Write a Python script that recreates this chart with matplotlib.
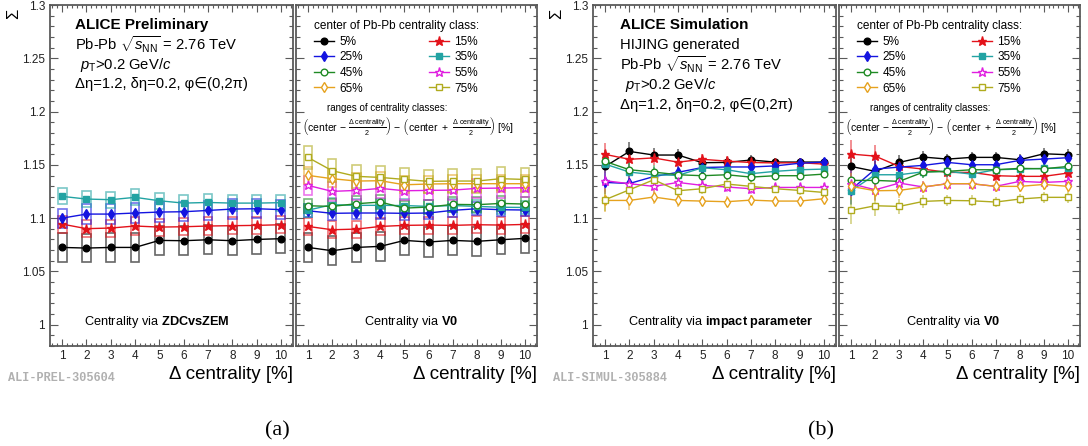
import matplotlib
matplotlib.use("Agg")
import matplotlib.pyplot as plt
from matplotlib.patches import Rectangle
from matplotlib.ticker import MultipleLocator, FuncFormatter

plt.rcParams['font.family'] = ['Liberation Sans', 'DejaVu Sans']
plt.rcParams['mathtext.fontset'] = 'custom'
plt.rcParams['mathtext.rm'] = 'Liberation Sans'
plt.rcParams['mathtext.it'] = 'Liberation Sans:italic'
plt.rcParams['mathtext.bf'] = 'Liberation Sans:bold'
plt.rcParams['mathtext.sf'] = 'Liberation Sans'

W, H = 1088, 446

dcent = [1, 2, 3, 4, 5, 6, 7, 8, 9, 10]

# (a) data, centrality via ZDCvsZEM
zdc_5 = [1.0725, 1.0719, 1.0725, 1.0725, 1.0791, 1.0788, 1.0797, 1.0788, 1.0800, 1.0807]
zdc_15 = [1.0944, 1.0901, 1.0907, 1.0926, 1.0916, 1.0919, 1.0926, 1.0929, 1.0932, 1.0938]
zdc_25 = [1.1000, 1.1038, 1.1038, 1.1048, 1.1057, 1.1060, 1.1072, 1.1085, 1.1088, 1.1080]
zdc_35 = [1.1204, 1.1179, 1.1173, 1.1195, 1.1163, 1.1141, 1.1147, 1.1141, 1.1141, 1.1145]
zdc_sys = [0.0135, 0.008, 0.009, 0.0075]

# (a) data, centrality via V0
v0_5 = [1.0725, 1.0694, 1.0725, 1.0735, 1.0791, 1.0776, 1.0791, 1.0782, 1.0797, 1.0810]
v0_15 = [1.0922, 1.0891, 1.0897, 1.0922, 1.0932, 1.0935, 1.0932, 1.0938, 1.0935, 1.0941]
v0_25 = [1.1069, 1.1045, 1.1048, 1.1048, 1.1045, 1.1048, 1.1073, 1.1088, 1.1079, 1.1076]
v0_35 = [1.1075, 1.1126, 1.1120, 1.1120, 1.1118, 1.1110, 1.1118, 1.1110, 1.1102, 1.1100]
v0_45 = [1.1116, 1.1110, 1.1135, 1.1151, 1.1094, 1.1104, 1.1129, 1.1126, 1.1138, 1.1132]
v0_55 = [1.1307, 1.1251, 1.1260, 1.1279, 1.1257, 1.1260, 1.1263, 1.1279, 1.1282, 1.1285]
v0_65 = [1.1401, 1.1370, 1.1348, 1.1351, 1.1313, 1.1320, 1.1323, 1.1323, 1.1323, 1.1323]
v0_75 = [1.1569, 1.1445, 1.1392, 1.1382, 1.1363, 1.1345, 1.1348, 1.1348, 1.1370, 1.1363]
v0_sys = [0.0137, 0.008, 0.006, 0.006, 0.0068, 0.009, 0.008, 0.011]

# (b) HIJING, centrality via impact parameter
ip_5 = [1.1485, 1.1626, 1.1592, 1.1592, 1.1520, 1.1523, 1.1545, 1.1526, 1.1526, 1.1526]
ip_15 = [1.1598, 1.1552, 1.1565, 1.1525, 1.1552, 1.1535, 1.1522, 1.1518, 1.1520, 1.1507]
ip_25 = [1.1335, 1.1325, 1.1390, 1.1430, 1.1475, 1.1480, 1.1480, 1.1490, 1.1515, 1.1526]
ip_35 = [1.1507, 1.1432, 1.1407, 1.1401, 1.1473, 1.1454, 1.1417, 1.1439, 1.1454, 1.1460]
ip_45 = [1.1532, 1.1454, 1.1432, 1.1407, 1.1398, 1.1407, 1.1385, 1.1398, 1.1398, 1.1413]
ip_55 = [1.1351, 1.1323, 1.1298, 1.1335, 1.1307, 1.1292, 1.1276, 1.1288, 1.1288, 1.1288]
ip_65 = [1.1166, 1.1166, 1.1198, 1.1166, 1.1160, 1.1154, 1.1169, 1.1160, 1.1160, 1.1182]
ip_75 = [1.1173, 1.1266, 1.1360, 1.1257, 1.1276, 1.1320, 1.1298, 1.1276, 1.1260, 1.1241]
ip_err = [0.011, 0.009, 0.007, 0.006, 0.005, 0.005, 0.005, 0.004, 0.004, 0.004]

# (b) HIJING, centrality via V0
sv0_5 = [1.1485, 1.1439, 1.1523, 1.1573, 1.1554, 1.1570, 1.1570, 1.1548, 1.1604, 1.1595]
sv0_15 = [1.1601, 1.1582, 1.1485, 1.1460, 1.1429, 1.1429, 1.1398, 1.1392, 1.1392, 1.1423]
sv0_25 = [1.1266, 1.1460, 1.1479, 1.1495, 1.1523, 1.1501, 1.1501, 1.1542, 1.1554, 1.1567]
sv0_35 = [1.1257, 1.1407, 1.1407, 1.1435, 1.1439, 1.1413, 1.1454, 1.1460, 1.1467, 1.1470]
sv0_45 = [1.1354, 1.1354, 1.1345, 1.1432, 1.1439, 1.1454, 1.1454, 1.1467, 1.1463, 1.1485]
sv0_55 = [1.1323, 1.1266, 1.1329, 1.1292, 1.1323, 1.1323, 1.1298, 1.1345, 1.1335, 1.1345]
sv0_65 = [1.1298, 1.1257, 1.1260, 1.1292, 1.1323, 1.1323, 1.1298, 1.1298, 1.1316, 1.1298]
sv0_75 = [1.1072, 1.1116, 1.1110, 1.1157, 1.1166, 1.1163, 1.1151, 1.1179, 1.1195, 1.1195]
sv0_err = [0.013, 0.010, 0.007, 0.006, 0.005, 0.005, 0.005, 0.005, 0.005, 0.005]

labels = ['5%', '15%', '25%', '35%', '45%', '55%', '65%', '75%']
colors = ['black', '#e3121a', '#1414e0', '#22a3a3', '#1f8a24', '#e01ee0', '#e6a21e', '#b0ab1e']
markers = ['o', '*', 'd', 's', 'o', '*', 'd', 's']
filled = [True, True, True, True, False, False, False, False]
msizes = [4.8, 6.5, 5.2, 4.6, 4.8, 6.5, 5.2, 4.6]

frame_col = '#5a5a5a'


def style_axes(ax, show_ylabels):
    ax.set_xlim(0.5, 10.5)
    ax.set_ylim(0.98, 1.3)
    ax.xaxis.set_major_locator(MultipleLocator(1))
    ax.xaxis.set_minor_locator(MultipleLocator(0.2))
    ax.yaxis.set_major_locator(MultipleLocator(0.05))
    ax.yaxis.set_minor_locator(MultipleLocator(0.01))
    ax.tick_params(which='both', direction='in', top=True, right=True, color=frame_col,
                   labelsize=8.5, labelcolor='#222222', width=0.8)
    ax.tick_params(which='major', axis='y', length=6)
    ax.tick_params(which='minor', axis='y', length=3)
    ax.tick_params(which='major', axis='x', length=5)
    ax.tick_params(which='minor', axis='x', length=2.5)
    ax.tick_params(axis='x', pad=3)
    ax.xaxis.set_major_formatter(FuncFormatter(lambda v, p: '%d' % v if 1 <= v <= 10 else ''))
    if show_ylabels:
        ax.yaxis.set_major_formatter(FuncFormatter(lambda v, p: '%g' % round(v, 3) if v >= 0.999 else ''))
    else:
        ax.tick_params(axis='y', labelleft=False)
    for s in ax.spines.values():
        s.set_color(frame_col)
        s.set_linewidth(1.3)


def draw_series(ax, series, idx, sys=None, err=None):
    handles = []
    for k, (vals, i) in enumerate(zip(series, idx)):
        c = colors[i]
        if sys is not None:
            for x, y in zip(dcent, vals):
                ax.add_patch(Rectangle((x - 0.18, y - sys[k]), 0.36, 2 * sys[k], fill=False,
                                       edgecolor=c, alpha=0.6, lw=1.2, zorder=2))
        e = err if err is not None else [0.0015] * len(vals)
        ax.errorbar(dcent, vals, yerr=e, fmt='none', ecolor=c, alpha=0.6, elinewidth=1.1, zorder=3)
        ln, = ax.plot(dcent, vals, color=c, lw=1.0, marker=markers[i], ms=msizes[i],
                      mfc=c if filled[i] else 'white', mec=c, mew=1.0, zorder=4, label=labels[i])
        handles.append(ln)
    return handles


def add_legend(ax, handles, x0):
    order = [0, 2, 4, 6, 1, 3, 5, 7]
    ax.legend([handles[i] for i in order], [labels[i] for i in order], ncol=2,
              title='center of Pb-Pb centrality class:', loc='upper left',
              bbox_to_anchor=(x0, 0.993), frameon=False, fontsize=8.5, title_fontsize=8.5,
              handlelength=1.7, handletextpad=0.45, columnspacing=5.6, labelspacing=0.3,
              alignment='left', borderpad=0.6)
    ax.text(0.38, 0.697, 'ranges of centrality classes:', transform=ax.transAxes,
            ha='center', va='center', fontsize=7)
    ax.text(0.467, 0.645,
            r'$\left(\mathrm{center}\ \mathrm{-}\ \frac{\Delta\ \mathrm{centrality}}{2}\right)\ \mathrm{-}\ '
            r'\left(\mathrm{center}\ +\ \frac{\Delta\ \mathrm{centrality}}{2}\right)$ [%]',
            transform=ax.transAxes, ha='center', va='center', fontsize=7.5)


fig = plt.figure(figsize=(W / 100, H / 100), dpi=100)


def axes_at(x0, x1, y0=5, y1=346):
    return fig.add_axes([x0 / W, 1 - y1 / H, (x1 - x0) / W, (y1 - y0) / H])


ax1 = axes_at(50, 293)
ax2 = axes_at(296, 537)
ax3 = axes_at(593, 836)
ax4 = axes_at(839, 1080)

for ax, lab in [(ax1, True), (ax2, False), (ax3, True), (ax4, False)]:
    style_axes(ax, lab)

draw_series(ax1, [zdc_5, zdc_15, zdc_25, zdc_35], [0, 1, 2, 3], sys=zdc_sys)
h2 = draw_series(ax2, [v0_5, v0_15, v0_25, v0_35, v0_45, v0_55, v0_65, v0_75], range(8), sys=v0_sys)
draw_series(ax3, [ip_5, ip_15, ip_25, ip_35, ip_45, ip_55, ip_65, ip_75], range(8), err=ip_err)
h4 = draw_series(ax4, [sv0_5, sv0_15, sv0_25, sv0_35, sv0_45, sv0_55, sv0_65, sv0_75], range(8), err=sv0_err)

add_legend(ax2, h2, 0.02)
add_legend(ax4, h4, 0.02)

# header texts
fs = 10.6
tx = 0.103
ax1.text(tx, 0.941, 'ALICE Preliminary', transform=ax1.transAxes, fontsize=11, fontweight='bold', va='center')
ax1.text(tx, 0.883, r'Pb-Pb $\sqrt{s_{\mathrm{NN}}}$ = 2.76 TeV', transform=ax1.transAxes, fontsize=fs, va='center')
ax1.text(tx + 0.02, 0.824, r'$p_{\mathrm{T}}$>0.2 GeV/$c$', transform=ax1.transAxes, fontsize=fs, va='center')
ax1.text(tx, 0.768, r'Δη=1.2, δη=0.2, φ∈(0,2π)', transform=ax1.transAxes, fontsize=fs, va='center')

tx = 0.111
ax3.text(tx, 0.941, 'ALICE Simulation', transform=ax3.transAxes, fontsize=11, fontweight='bold', va='center')
ax3.text(tx, 0.883, 'HIJING generated', transform=ax3.transAxes, fontsize=fs, va='center')
ax3.text(tx, 0.824, r'Pb-Pb $\sqrt{s_{\mathrm{NN}}}$ = 2.76 TeV', transform=ax3.transAxes, fontsize=fs, va='center')
ax3.text(tx + 0.02, 0.765, r'$p_{\mathrm{T}}$>0.2 GeV/$c$', transform=ax3.transAxes, fontsize=fs, va='center')
ax3.text(tx, 0.707, r'Δη=1.2, δη=0.2, φ∈(0,2π)', transform=ax3.transAxes, fontsize=fs, va='center')

for ax, xc, name in [(ax1, 0.44, 'ZDCvsZEM'), (ax2, 0.477, 'V0'),
                     (ax3, 0.527, 'impact\ parameter'), (ax4, 0.473, 'V0')]:
    ax.text(xc, 0.07, r'Centrality via $\mathbf{' + name + '}$', transform=ax.transAxes,
            ha='center', va='center', fontsize=9.2)
    ax.text(1.0, -0.085, 'Δ centrality [%]', transform=ax.transAxes, ha='right', va='center', fontsize=13.5)

for xl in [14, 557]:
    fig.text(xl / W, 1 - 9 / H, 'Σ', rotation=90, ha='center', va='top', fontsize=12)

fig.text(8 / W, 1 - 378 / H, 'ALI-PREL-305604', family='Liberation Mono', fontweight='bold',
         color='#b0b0b0', fontsize=8.6, va='center')
fig.text(553 / W, 1 - 378 / H, 'ALI-SIMUL-305884', family='Liberation Mono', fontweight='bold',
         color='#b0b0b0', fontsize=8.6, va='center')

fig.text(277 / W, 1 - 431 / H, '(a)', family='Liberation Serif', fontsize=16, ha='center', va='center')
fig.text(821 / W, 1 - 431 / H, '(b)', family='Liberation Serif', fontsize=16, ha='center', va='center')

fig.savefig('out.png', dpi=100)
